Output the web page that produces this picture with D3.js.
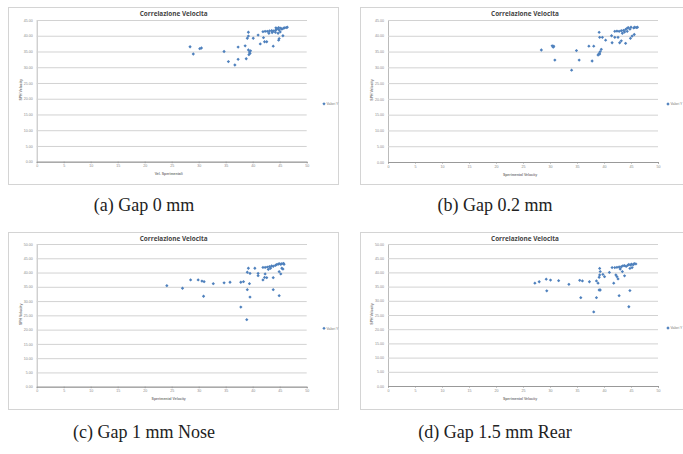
<!DOCTYPE html>
<meta charset="utf-8">
<style>
body { margin: 0; background: #fff; }
.tick text { font: 3.6px "Liberation Sans", sans-serif; fill: #8a8a8a; }
.caption { font: 18px "Liberation Serif", serif; fill: #222; }
</style>
<div id="figure"></div>
<script src="https://cdn.jsdelivr.net/npm/d3@7"></script>
<script>

// tick values, same for the four excel charts
const xTicks = [0, 5, 10, 15, 20, 25, 30, 35, 40, 45, 50];
const yTicks45 = [0, 5, 10, 15, 20, 25, 30, 35, 40, 45];
const yTicks50 = [0, 5, 10, 15, 20, 25, 30, 35, 40, 45, 50];

const gap0mm = [
  [28.4, 36.5], [29.0, 34.2], [30.2, 35.9], [30.5, 36.1], [34.7, 35.0], [35.5, 31.8],
  [36.7, 30.7], [37.3, 32.5], [37.3, 36.4], [38.6, 36.8], [38.8, 32.7], [39.2, 41.1],
  [39.2, 39.9], [39.0, 39.2], [39.2, 35.5], [39.4, 34.8], [39.5, 34.4], [39.3, 34.0],
  [39.6, 35.2], [40.1, 39.2], [41.0, 40.2], [41.4, 37.4], [42.0, 39.4], [42.2, 38.1],
  [42.6, 38.1], [43.8, 36.7], [44.8, 38.6], [44.9, 39.1], [45.6, 40.0],
  [41.9, 41.3], [42.3, 41.4], [42.7, 41.4], [43.1, 41.5], [43.5, 41.6], [43.8, 41.5],
  [44.2, 41.7], [44.4, 42.0], [44.7, 42.2], [44.9, 41.8], [45.2, 42.4], [45.4, 42.1],
  [45.7, 42.4], [45.9, 42.5], [46.2, 42.6], [46.4, 42.7], [43.0, 40.8], [43.6, 41.0],
  [44.2, 41.1], [44.7, 40.8], [45.1, 41.2], [44.3, 42.5], [44.8, 42.6]
];
const gap02mm = [
  [28.4, 35.5], [30.4, 36.8], [30.6, 36.4], [30.7, 36.7], [30.9, 32.3], [34.0, 29.1],
  [34.9, 35.3], [35.4, 32.3], [37.2, 36.7], [38.1, 36.7], [37.8, 32.0], [38.9, 33.9],
  [39.1, 34.4], [39.3, 35.0], [39.5, 35.7], [39.2, 34.2], [39.1, 41.1], [39.2, 39.5],
  [39.7, 39.5], [40.3, 38.6], [41.4, 40.0], [41.5, 37.8], [42.0, 39.5], [42.6, 39.5],
  [42.9, 37.8], [43.2, 38.4], [44.0, 37.6], [44.9, 39.2], [45.2, 39.9], [45.6, 40.4],
  [42.0, 41.4], [42.4, 41.5], [42.8, 41.4], [43.2, 41.6], [43.6, 41.7], [44.0, 42.0],
  [44.3, 42.4], [44.5, 42.6], [44.8, 42.1], [45.0, 42.7], [45.5, 42.5], [45.7, 42.7],
  [46.0, 42.6], [46.2, 42.7], [43.4, 40.8], [43.8, 41.2], [44.3, 41.4]
];
const gap1mmNose = [
  [24.1, 35.4], [27.0, 34.5], [28.5, 37.4], [29.9, 37.4], [30.6, 37.0], [31.0, 36.8],
  [30.9, 31.7], [32.7, 36.1], [34.7, 36.4], [35.8, 36.6], [37.8, 27.9], [37.8, 36.6],
  [38.3, 36.8], [38.9, 23.5], [39.0, 34.0], [39.4, 36.1], [39.5, 31.4], [39.2, 41.5],
  [39.0, 40.1], [39.5, 39.7], [40.4, 41.5], [41.0, 39.7], [41.0, 38.9], [41.9, 37.4],
  [42.2, 38.3], [42.6, 38.2], [42.3, 39.5], [43.8, 38.2], [43.8, 34.0], [44.9, 31.9],
  [44.9, 40.3], [45.2, 39.5], [45.4, 41.5], [45.6, 41.2],
  [41.9, 41.8], [42.3, 41.8], [42.7, 41.9], [43.1, 42.1], [43.5, 42.3], [43.8, 42.2],
  [44.2, 42.5], [44.4, 42.8], [44.7, 42.9], [44.9, 43.1], [45.2, 42.9], [45.4, 43.1],
  [45.7, 43.2], [45.8, 42.9], [43.3, 41.5], [42.9, 41.1]
];
const gap15mmRear = [
  [27.2, 36.2], [28.0, 36.7], [29.3, 37.6], [29.4, 33.5], [30.1, 37.3], [31.6, 37.1],
  [33.5, 35.8], [35.5, 37.2], [36.0, 37.0], [35.7, 31.1], [37.3, 36.7], [38.1, 26.1],
  [38.6, 37.0], [38.6, 31.1], [38.9, 36.2], [39.1, 33.8], [39.3, 33.8], [39.2, 41.4],
  [39.3, 40.3], [39.2, 39.1], [39.1, 38.3], [39.8, 39.3], [40.1, 38.5], [41.0, 40.0],
  [41.8, 36.2], [42.2, 39.1], [42.4, 38.5], [42.6, 37.7], [42.8, 31.8], [43.0, 41.2],
  [43.4, 40.3], [43.8, 38.8], [44.6, 27.9], [44.8, 33.6],
  [41.5, 41.7], [42.0, 41.7], [42.4, 41.8], [42.8, 41.9], [43.2, 42.0], [43.5, 42.3],
  [43.8, 42.4], [44.1, 42.1], [44.4, 42.5], [44.6, 42.8], [44.9, 42.6], [45.1, 42.9],
  [45.4, 42.7], [45.6, 43.1], [45.9, 43.0], [44.8, 41.4], [45.2, 41.7]
];

const width = 683, height = 454;

const svg = d3.select("#figure")
  .append("svg")
    .attr("width", width)
    .attr("height", height);

// one entry per sub figure: frame box, plot box, texts
const panels = [
  {data: gap0mm, yTicks: yTicks45, frame: [8, 7], plot: [36.7, 20, 306.7, 161.7], legendX: 324,
   xTitle: "Vel. Sperimentali", caption: "(a) Gap 0 mm", capX: 144, capY: 211},
  {data: gap02mm, yTicks: yTicks45, frame: [360, 7], plot: [388, 20, 658, 162], legendX: 668,
   xTitle: "Sperimental Velocity", caption: "(b) Gap 0.2 mm", capX: 495, capY: 211},
  {data: gap1mmNose, yTicks: yTicks50, frame: [8, 232], plot: [36.7, 244, 306.7, 386.7], legendX: 324,
   xTitle: "Sperimental Velocity", caption: "(c) Gap 1 mm Nose", capX: 144, capY: 438},
  {data: gap15mmRear, yTicks: yTicks50, frame: [360, 232], plot: [388, 244, 658, 386], legendX: 668,
   xTitle: "Sperimental Velocity", caption: "(d) Gap 1.5 mm Rear", capX: 495, capY: 438}
];

// excel style marker: small square turned 45 degrees
const marker = d3.symbol().type(d3.symbolSquare).size(5.5);

panels.forEach(function(p) {
  const [x0, y0, x1, y1] = p.plot;
  const g = svg.append("g");

  // chart area border
  g.append("rect")
    .attr("x", p.frame[0] + 0.5).attr("y", p.frame[1] + 0.5)
    .attr("width", 330).attr("height", 177)
    .attr("fill", "#fff").attr("stroke", "#d4d4d4");

  const x = d3.scaleLinear().domain([0, 50]).range([x0, x1]);
  const y = d3.scaleLinear().domain([0, d3.max(p.yTicks)]).range([y1, y0]);

  // gridlines + y labels
  g.append("g")
    .attr("transform", "translate(" + x0 + ",0)")
    .call(d3.axisLeft(y).tickValues(p.yTicks).tickSize(-(x1 - x0)).tickPadding(4)
      .tickFormat(d3.format(".2f")))
    .call(a => a.select(".domain").attr("stroke", "#bbb"))
    .call(a => a.selectAll(".tick line").attr("stroke", "#d2d2d2"));

  // x axis
  g.append("g")
    .attr("transform", "translate(0," + y1 + ")")
    .call(d3.axisBottom(x).tickValues(xTicks).tickSize(1.5).tickPadding(1.5)
      .tickFormat(d3.format("d")))
    .call(a => a.select(".domain").attr("stroke", "#999"))
    .call(a => a.selectAll(".tick line").attr("stroke", "#999"));

  g.append("text")
    .attr("x", x(25) + 2).attr("y", p.frame[1] + 9)
    .attr("text-anchor", "middle")
    .style("font", "bold 6.4px 'Open Sans', sans-serif")
    .attr("fill", "#444")
    .text("Correlazione Velocita");

  g.append("text")
    .attr("x", x(25) - 3).attr("y", y1 + 13.5)
    .attr("text-anchor", "middle")
    .style("font", "bold 3.5px 'Liberation Sans', sans-serif")
    .attr("fill", "#777")
    .text(p.xTitle);

  g.append("text")
    .attr("transform", "translate(" + (x0 - 15) + "," + ((y0 + y1) / 2 - 1) + ") rotate(-90)")
    .attr("text-anchor", "middle")
    .style("font", "bold 3.5px 'Liberation Sans', sans-serif")
    .attr("fill", "#777")
    .text("SPH Velocity");

  // legend
  const lx = p.legendX, ly = (y0 + y1) / 2 + 13;
  g.append("path").attr("d", marker).attr("fill", "#4f81bd")
    .attr("transform", "translate(" + lx + "," + ly + ") rotate(45)");
  g.append("text")
    .attr("x", lx + 2.5).attr("y", ly + 1.2)
    .style("font", "3.5px 'Liberation Sans', sans-serif")
    .attr("fill", "#777")
    .text("Valori Y");

  // points
  g.append("g")
    .selectAll("path")
    .data(p.data)
    .enter()
    .append("path")
      .attr("d", marker)
      .attr("transform", d => "translate(" + x(d[0]) + "," + y(d[1]) + ") rotate(45)")
      .attr("fill", "#4f81bd");

  svg.append("text")
    .attr("class", "caption")
    .attr("x", p.capX).attr("y", p.capY)
    .attr("text-anchor", "middle")
    .text(p.caption);
});

</script>
